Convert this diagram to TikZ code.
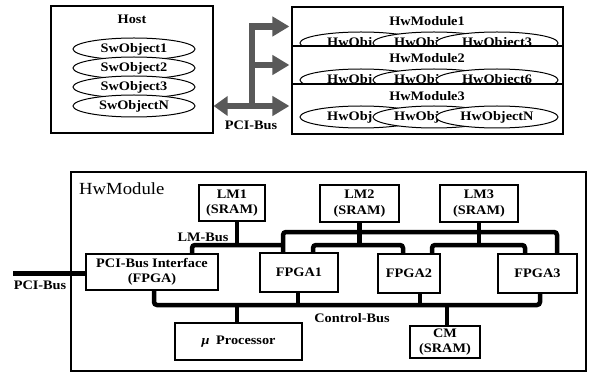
\documentclass[tikz,border=0pt]{standalone}
\usepackage{fontspec}
\setmainfont{Liberation Serif}[FakeStretch=1.1]
\usetikzlibrary{arrows.meta,shapes.geometric,calc}
\begin{document}
\begin{tikzpicture}[x=1pt,y=-1pt,
  lbl/.style={font=\bfseries\fontsize{13}{15}\selectfont, inner sep=0pt},
  box/.style={draw, line width=1.1pt, fill=white, align=center, font=\bfseries\fontsize{13}{15.5}\selectfont, inner sep=0pt},
  frame/.style={draw, line width=1.2pt, inner sep=0pt},
  obj/.style={draw, ellipse, fill=white, line width=1pt, minimum width=122pt, minimum height=22pt, inner sep=0pt, font=\bfseries\fontsize{13}{15}\selectfont},
  bus/.style={line width=4.5pt, rounded corners=3pt},
  pci/.style={line width=6.5pt, black!65},
  tip/.tip={Triangle[length=17pt,width=19pt]}
]
\fill[white] (0,0) rectangle (591,374);
\useasboundingbox (0,0) rectangle (591,374);

% ---------- top part ----------
\node[frame, minimum width=162pt, minimum height=127pt] (host) at (132,69.5) {};
\node[lbl] (hostl) at (132,19) {Host};
\node[obj] (sw1) at (134,49) {SwObject1};
\node[obj] (sw2) at (134,68) {SwObject2};
\node[obj] (sw3) at (134,87) {SwObject3};
\node[obj] (swN) at (134,106) {SwObjectN};

\node[frame, minimum width=271pt, minimum height=39pt] (mod1) at (427.5,26.5) {};
\node[frame, minimum width=271pt, minimum height=38pt] (mod2) at (427.5,65) {};
\node[frame, minimum width=271pt, minimum height=50pt] (mod3) at (427.5,109) {};

\node[lbl] (m1l) at (427,21) {HwModule1};
\node[lbl] (m2l) at (427,58) {HwModule2};
\node[lbl] (m3l) at (427,96) {HwModule3};

\begin{scope}
  \clip (mod1.north west) rectangle (mod1.south east);
  \node[obj] (e11) at (361,43) {};
  \node[lbl, anchor=west] (t11) at (327,43) {HwObj};
  \node[obj] (e12) at (434,43) {};
  \node[lbl, anchor=west] (t12) at (394,43) {HwObj};
  \node[obj] (e13) at (497,43) {HwObject3};
\end{scope}
\begin{scope}
  \clip (mod2.north west) rectangle (mod2.south east);
  \node[obj] (e21) at (361,80) {};
  \node[lbl, anchor=west] (t21) at (327,80) {HwObj};
  \node[obj] (e22) at (434,80) {};
  \node[lbl, anchor=west] (t22) at (394,80) {HwObj};
  \node[obj] (e23) at (497,80) {HwObject6};
\end{scope}
\node[obj] (e31) at (361,117) {};
\node[lbl, anchor=west] (t31) at (327,117) {HwObj};
\node[obj] (e32) at (434,117) {};
\node[lbl, anchor=west] (t32) at (394,117) {HwObj};
\node[obj] (e33) at (497,117) {HwObjectN};

\draw[line width=1.2pt] (mod1.north west) rectangle (mod1.south east);
\draw[line width=1.2pt] (mod2.north west) rectangle (mod2.south east);
\draw[line width=1.2pt] (mod3.north west) rectangle (mod3.south east);

\coordinate (stem) at (252,106);
\draw[pci, {Triangle[length=14pt,width=19pt]}-tip, shorten >=2pt] (host.east |- swN) -- (mod3.west |- swN);
\draw[pci, -tip, shorten >=2pt] (stem) |- (mod1.west);
\draw[pci, -tip, shorten >=2pt] (stem |- mod2.west) -- (mod2.west);
\node[lbl] (pcil) at (251,125) {PCI-Bus};

% ---------- bottom part ----------
\node[draw, line width=2.5pt, minimum width=515pt, minimum height=199pt] (hwm) at (328.5,271.5) {};
\node[font=\fontsize{17}{19}\selectfont, inner sep=0pt, anchor=west] (hwml) at (79,189) {HwModule};

\node[box, minimum width=66pt, minimum height=36pt] (lm1) at (232,203) {LM1\\(SRAM)};
\node[box, minimum width=79pt, minimum height=37pt] (lm2) at (359.5,203.5) {LM2\\(SRAM)};
\node[box, minimum width=78pt, minimum height=37pt] (lm3) at (479,203.5) {LM3\\(SRAM)};
\node[box, minimum width=132pt, minimum height=36pt] (pciif) at (152,272) {PCI-Bus Interface\\(FPGA)};
\node[box, minimum width=78pt, minimum height=39pt] (f1) at (299,272.5) {FPGA1};
\node[box, minimum width=62pt, minimum height=39pt] (f2) at (409,273.5) {FPGA2};
\node[box, minimum width=79pt, minimum height=39pt] (f3) at (537.5,273.5) {FPGA3};
\node[box, minimum width=127pt, minimum height=37pt] (mp) at (238.5,341.5) {\textit{µ}\hspace{0.5em}Processor};
\node[box, minimum width=70pt, minimum height=32pt] (cm) at (445,342) {CM\\(SRAM)};

\coordinate (yA) at (0,245);
\coordinate (yB) at (0,232);
\coordinate (yC) at (0,305);
\coordinate (pciT) at ([xshift=40pt]pciif.north);
\coordinate (pciB) at ([xshift=2pt]pciif.south);
\coordinate (f1Ta) at ([xshift=-16pt]f1.north);
\coordinate (f1Tb) at ([xshift=14pt]f1.north);
\coordinate (f2Ta) at ([xshift=-6pt]f2.north);
\coordinate (f2Tb) at ([xshift=23pt]f2.north);
\coordinate (f3Ta) at ([xshift=-12.5pt]f3.north);
\coordinate (f3Tb) at ([xshift=19.5pt]f3.north);
\coordinate (f1B) at ([xshift=-1pt]f1.south);
\coordinate (f2B) at ([xshift=11pt]f2.south);
\coordinate (f3B) at ([xshift=2.5pt]f3.south);
\coordinate (lm1B) at ([xshift=5pt]lm1.south);
\coordinate (mpT) at ([xshift=-1.5pt]mp.north);
\coordinate (cmT) at ([xshift=2pt]cm.north);
\coordinate (ext) at (13,273);

% LM-Bus
\draw[bus] (pciT) |- (f1Ta |- yA);
\draw[bus] (lm1B) -- (lm1B |- yA);
\draw[bus] (f1Ta) |- (f3Tb |- yB) -- (f3Tb);
\draw[bus] (lm2.south) -- (lm2.south |- yA);
\draw[bus] (f1Tb) |- (f2Ta |- yA) -- (f2Ta);
\draw[bus] (lm3.south) -- (lm3.south |- yA);
\draw[bus] (f2Tb) |- (f3Ta |- yA) -- (f3Ta);
% Control-Bus
\draw[bus] (pciB) |- (f3B |- yC) -- (f3B);
\draw[bus] (f1B) -- (f1B |- yC);
\draw[bus] (f2B) -- (f2B |- yC);
\draw[bus] (mpT) -- (mpT |- yC);
\draw[bus] (cmT) -- (cmT |- yC);
% external PCI-Bus
\draw[bus, line width=5pt] (ext) -- (ext -| pciif.west);

\node[lbl] (lmbus) at (203,237) {LM-Bus};
\node[lbl] (cbus) at (352,318) {Control-Bus};
\node[lbl] (pcib2) at (40,285) {PCI-Bus};
\end{tikzpicture}
\end{document}
